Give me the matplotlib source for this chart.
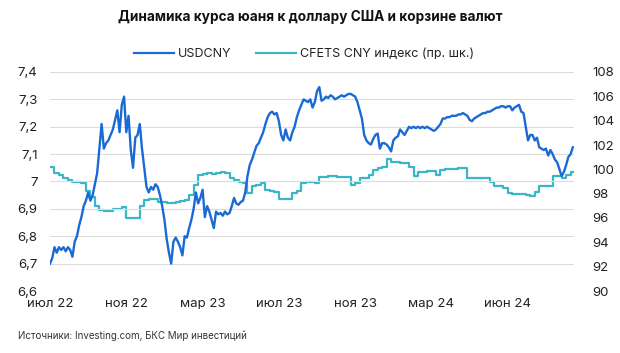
import numpy as np
import matplotlib.pyplot as plt
from matplotlib.ticker import FuncFormatter

plt.rcParams['font.family'] = ['Inter', 'DejaVu Sans']

# USDCNY, два значения в неделю
usdcny = [
    6.70, 6.72, 6.76, 6.74, 6.76, 6.75, 6.76, 6.745, 6.76, 6.75,
    6.725, 6.78, 6.80, 6.84, 6.87, 6.91, 6.93, 6.96, 6.93, 6.95,
    6.99, 7.03, 7.12, 7.21, 7.12, 7.14, 7.15, 7.17, 7.19, 7.225,
    7.26, 7.18, 7.28, 7.31, 7.18, 7.24, 7.115, 7.05, 7.16, 7.17,
    7.21, 7.12, 7.05, 6.98, 6.96, 6.98, 6.97, 6.99, 6.98, 6.95,
    6.91, 6.86, 6.79, 6.74, 6.70, 6.78, 6.795, 6.78, 6.76, 6.73,
    6.80, 6.795, 6.83, 6.86, 6.90, 6.96, 6.92, 6.94, 6.97, 6.87,
    6.91, 6.89, 6.86, 6.83, 6.89, 6.88, 6.885, 6.875, 6.89, 6.88,
    6.885, 6.91, 6.94, 6.92, 6.915, 6.925, 6.93, 6.96, 7.02, 7.06,
    7.08, 7.105, 7.13, 7.14, 7.16, 7.18, 7.21, 7.235, 7.25, 7.255,
    7.245, 7.25, 7.22, 7.17, 7.15, 7.19, 7.16, 7.15, 7.18, 7.20,
    7.235, 7.26, 7.28, 7.30, 7.295, 7.29, 7.30, 7.27, 7.29, 7.33,
    7.345, 7.295, 7.30, 7.31, 7.305, 7.315, 7.31, 7.30, 7.305, 7.31,
    7.315, 7.31, 7.315, 7.32, 7.32, 7.315, 7.31, 7.29, 7.26, 7.23,
    7.17, 7.15, 7.14, 7.135, 7.155, 7.17, 7.175, 7.12, 7.14, 7.14,
    7.135, 7.125, 7.11, 7.15, 7.16, 7.165, 7.19, 7.18, 7.17, 7.185,
    7.20, 7.195, 7.20, 7.195, 7.20, 7.195, 7.20, 7.195, 7.20, 7.195,
    7.19, 7.185, 7.19, 7.20, 7.21, 7.23, 7.23, 7.235, 7.235, 7.24,
    7.24, 7.24, 7.245, 7.245, 7.25, 7.245, 7.24, 7.225, 7.22, 7.23,
    7.235, 7.24, 7.245, 7.25, 7.25, 7.255, 7.255, 7.26, 7.265, 7.27,
    7.27, 7.275, 7.275, 7.27, 7.275, 7.275, 7.26, 7.27, 7.275, 7.28,
    7.255, 7.25, 7.20, 7.15, 7.17, 7.17, 7.15, 7.16, 7.125, 7.12,
    7.115, 7.12, 7.095, 7.115, 7.10, 7.08, 7.07, 7.045, 7.02, 7.035,
    7.06, 7.09, 7.10, 7.125,
]

# CFETS CNY индекс, раз в неделю
cfets = [
    100.2, 99.67, 99.5, 99.26, 99.1, 99.0, 98.95, 98.9, 98.2, 97.75,
    97.0, 96.62, 96.55, 96.55, 96.7, 96.75, 96.9, 95.97, 95.97, 95.97,
    97.0, 97.48, 97.55, 97.6, 97.35, 97.35, 97.2, 97.2, 97.35, 97.4,
    97.5, 97.9, 98.7, 99.55, 99.6, 99.67, 99.65, 99.7, 99.8, 99.7,
    99.26, 99.1, 99.0, 98.9, 98.03, 98.6, 98.7, 98.9, 98.3, 98.2,
    98.1, 97.6, 97.6, 97.6, 98.03, 98.2, 98.85, 99.0, 98.95, 98.85,
    99.4, 99.4, 99.45, 99.45, 99.4, 99.4, 99.4, 98.7, 98.85, 99.26,
    99.26, 99.55, 99.95, 100.1, 100.2, 100.82, 100.6, 100.6, 100.5, 100.5,
    100.2, 99.45, 99.8, 99.8, 99.85, 99.9, 99.55, 99.95, 100.0, 100.05,
    100.05, 100.1, 100.1, 99.3, 99.3, 99.3, 99.3, 99.26, 99.0, 98.6,
    98.6, 98.45, 98.03, 98.0, 98.0, 97.95, 97.85, 97.8, 98.1, 98.6,
    98.6, 98.6, 99.45, 99.45, 99.3, 99.55, 99.8, 99.8,
]

month_labels = ['июл 22', 'ноя 22', 'мар 23', 'июл 23', 'ноя 23', 'мар 24', 'июн 24']
left_ticks = [6.6, 6.7, 6.8, 6.9, 7.0, 7.1, 7.2, 7.3, 7.4]
right_ticks = [90, 92, 94, 96, 98, 100, 102, 104, 106, 108]

blue = '#1a6ad6'
teal = '#3cb6c6'
grid_c = '#dcdcdc'
txt = '#222222'

x_usd = np.arange(len(usdcny))
x_cf = np.arange(len(cfets)) * 2

fig = plt.figure(figsize=(6.2, 3.53), dpi=100)
ax = fig.add_axes([50 / 620, 1 - 291 / 353, 524 / 620, 219 / 353])
ax2 = ax.twinx()

ax.set_ylim(6.6, 7.4)
ax2.set_ylim(90, 108)
ax.set_xlim(0, 233.5)

ax.set_yticks(left_ticks)
ax2.set_yticks(right_ticks)
for t in left_ticks:
    ax.axhline(t, color=grid_c, lw=0.8, zorder=0)

def comma(v, pos):
    s = ('%.1f' % v).replace('.', ',')
    if s.endswith(',0'):
        s = s[:-2]
    return s

ax.yaxis.set_major_formatter(FuncFormatter(comma))

ax2.plot(x_cf, cfets, color=teal, lw=1.6, drawstyle='steps-post', zorder=2)
ax.set_zorder(ax2.get_zorder() + 1)
ax.patch.set_visible(False)
ax.plot(x_usd, usdcny, color=blue, lw=1.7, zorder=3)

ax.set_xticks(np.arange(len(month_labels)) * 34)
ax.set_xticklabels(month_labels)

for a in (ax, ax2):
    for s in a.spines.values():
        s.set_visible(False)
    a.tick_params(length=0, labelsize=9.5, colors=txt)
ax.tick_params(axis='y', pad=9)
ax2.tick_params(axis='y', pad=13)
ax.tick_params(axis='x', pad=5)

fig.text(0.5, 0.952, 'Динамика курса юаня к доллару США и корзине валют',
         ha='center', va='center', fontsize=9.8, fontweight='bold', color='#111111')

# легенда
l1, = ax.plot([], [], color=blue, lw=1.6, label='USDCNY')
l2, = ax.plot([], [], color=teal, lw=1.6, label='CFETS CNY индекс (пр. шк.)')
fig.legend(handles=[l1, l2], loc='center', bbox_to_anchor=(0.49, 0.847), ncol=2,
           frameon=False, fontsize=9, handlelength=3.2, handletextpad=0.3,
           columnspacing=2.0, labelcolor=txt)

fig.text(18 / 620, 1 - 336 / 353, 'Источники: Investing.com, БКС Мир инвестиций',
         ha='left', va='center', fontsize=7, color='#333333')

fig.savefig('out.png', dpi=100)
